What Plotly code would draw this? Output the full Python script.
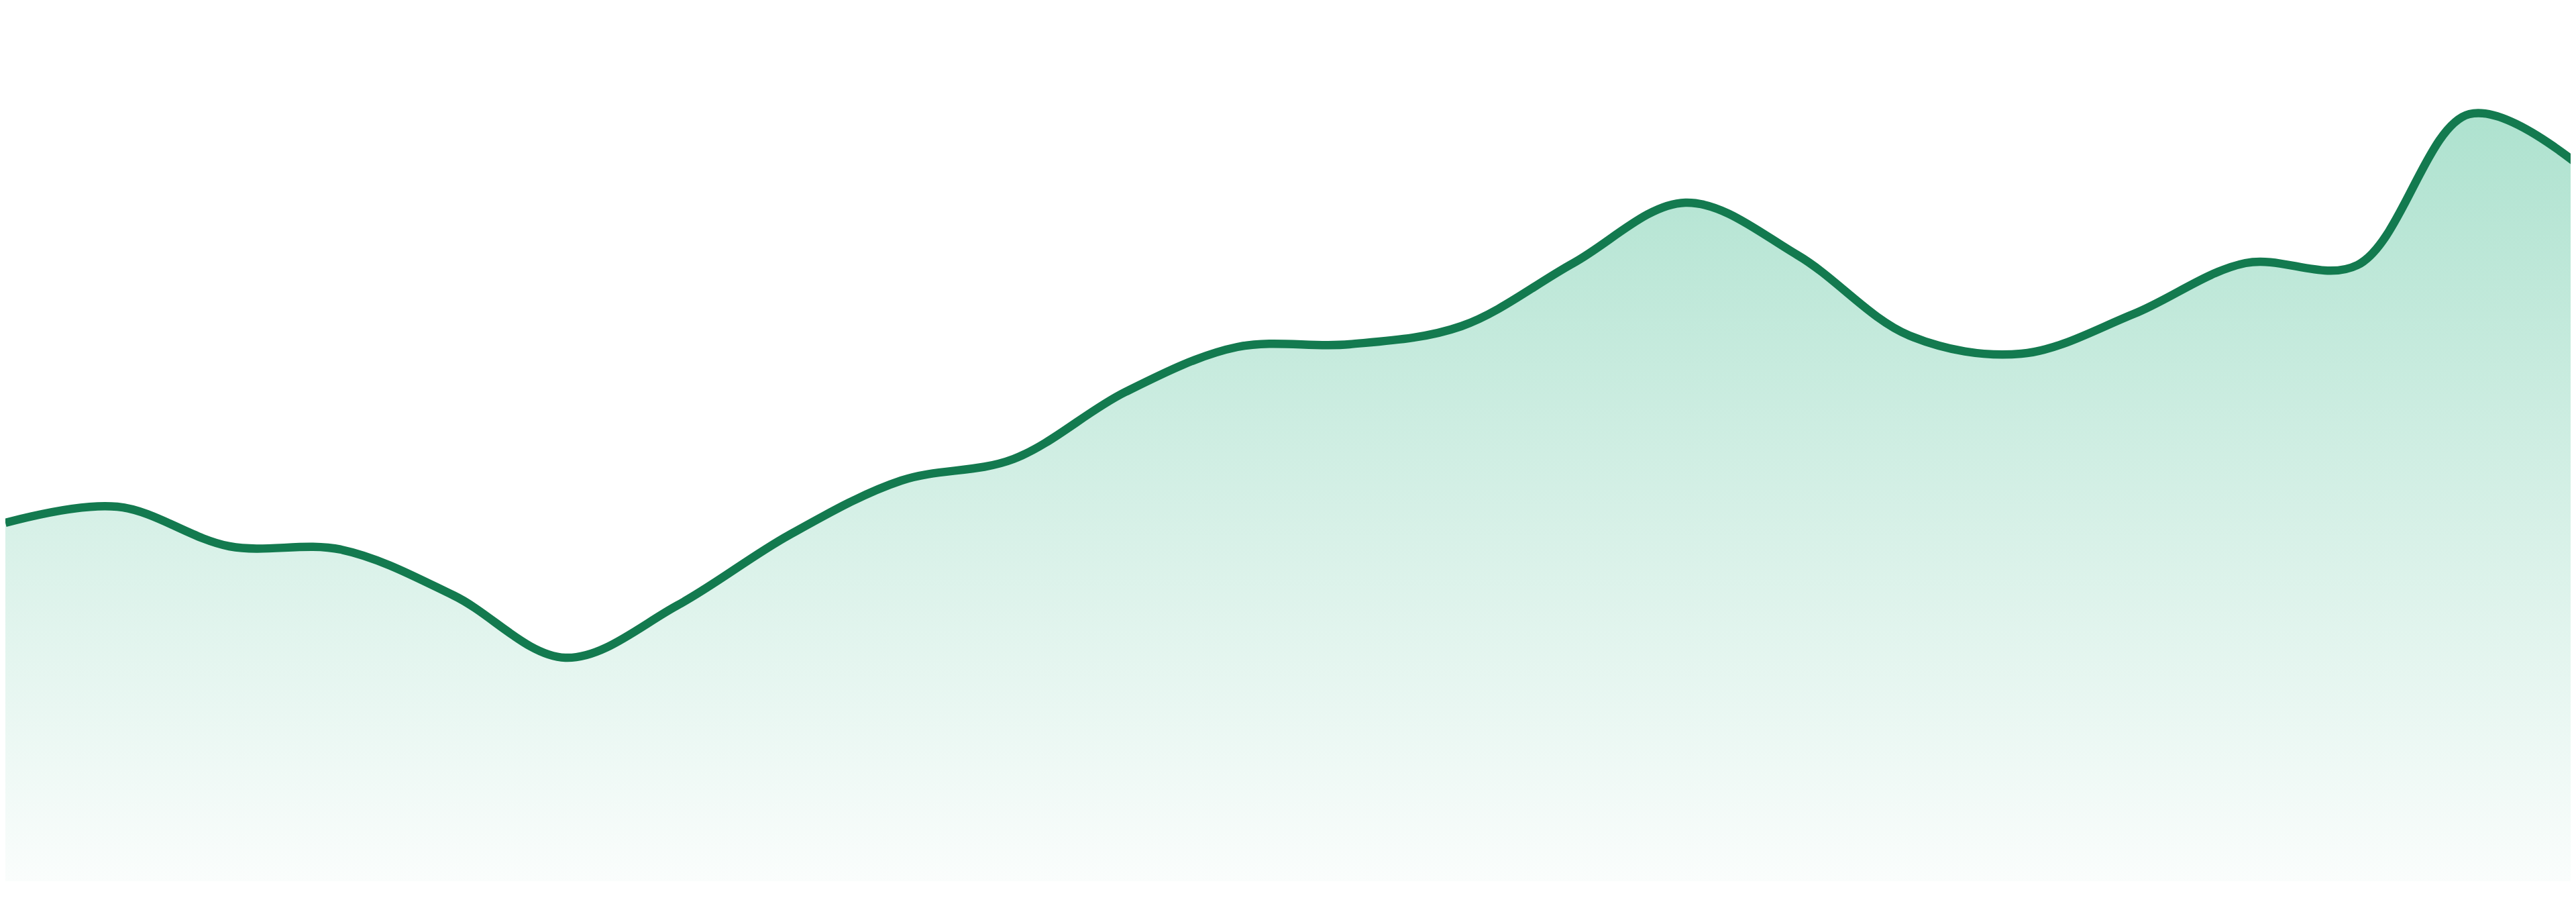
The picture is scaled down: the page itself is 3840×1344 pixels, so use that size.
import plotly.graph_objects as go

# Data (arbitrary units, y axis hidden)
periods = list(range(24))
values = [534, 558, 499, 494, 426, 333, 411, 516, 597, 629, 729, 796,
          800, 827, 921, 1011, 933, 813, 786, 845, 921, 918, 1143, 1064]

LINE_COLOR = "#137a4f"
FILL_TOP = "rgb(174,226,207)"
FILL_BOTTOM = "rgb(250,253,252)"

fig = go.Figure()
fig.add_trace(go.Scatter(
    x=periods,
    y=values,
    mode="lines",
    line=dict(color=LINE_COLOR, width=12.5, shape="spline", smoothing=1.0),
    fill="tozeroy",
    fillgradient=dict(
        type="vertical",
        colorscale=[[0, FILL_BOTTOM], [1, FILL_TOP]],
    ),
    hoverinfo="skip",
    showlegend=False,
    cliponaxis=True,
))

fig.update_layout(
    width=3840,
    height=1344,
    margin=dict(l=0, r=0, t=0, b=39, pad=0),
    paper_bgcolor="white",
    plot_bgcolor="white",
    xaxis=dict(visible=False, range=[0, 23], fixedrange=True),
    yaxis=dict(visible=False, range=[0, 1305], fixedrange=True),
)

fig.write_html("out.html")
